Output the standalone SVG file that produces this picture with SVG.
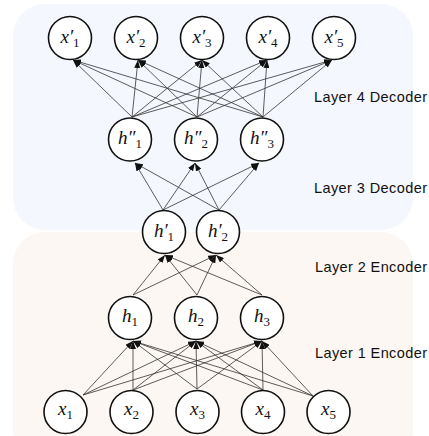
<svg xmlns="http://www.w3.org/2000/svg" width="429" height="436" viewBox="0 0 429 436">
<style>
.n{fill:#fff;stroke:#111;stroke-width:1.6}
.e line{stroke:#333;stroke-width:0.8;marker-end:url(#ah)}
.m{font-family:"Liberation Serif","DejaVu Serif",serif;font-style:italic;font-size:19px;fill:#111}
.s{font-style:normal;font-size:13px}
.l{font-family:"Liberation Sans","DejaVu Sans",sans-serif;font-size:14.5px;fill:#111}
</style>
<defs>
<marker id="ah" markerUnits="userSpaceOnUse" markerWidth="8" markerHeight="6" refX="8" refY="3" orient="auto" viewBox="0 0 8 6">
<path d="M0,0 L8,3 L0,6 z" fill="#111"/>
</marker>
</defs>
<g id="background">
<rect x="13" y="4" width="400" height="226" rx="32" fill="#f4f7fd"/>
<rect x="13" y="232" width="400" height="230" rx="32" fill="#fcf7f3"/>
</g>
<g id="connectors" class="e">
<line x1="83" y1="395" x2="133" y2="341"/>
<line x1="83" y1="395" x2="196" y2="341"/>
<line x1="83" y1="395" x2="262" y2="341"/>
<line x1="133" y1="390" x2="133" y2="341"/>
<line x1="133" y1="390" x2="196" y2="341"/>
<line x1="133" y1="390" x2="262" y2="341"/>
<line x1="197" y1="389" x2="133" y2="341"/>
<line x1="197" y1="389" x2="196" y2="341"/>
<line x1="197" y1="389" x2="262" y2="341"/>
<line x1="263" y1="390" x2="133" y2="341"/>
<line x1="263" y1="390" x2="196" y2="341"/>
<line x1="263" y1="390" x2="262" y2="341"/>
<line x1="313" y1="396" x2="133" y2="341"/>
<line x1="313" y1="396" x2="196" y2="341"/>
<line x1="313" y1="396" x2="262" y2="341"/>
<line x1="133" y1="295" x2="165" y2="255"/>
<line x1="133" y1="295" x2="216" y2="255"/>
<line x1="197" y1="295" x2="165" y2="255"/>
<line x1="197" y1="295" x2="216" y2="255"/>
<line x1="262" y1="295" x2="165" y2="255"/>
<line x1="262" y1="295" x2="216" y2="255"/>
<line x1="163" y1="210" x2="135" y2="163"/>
<line x1="163" y1="210" x2="195" y2="163"/>
<line x1="163" y1="210" x2="259" y2="163"/>
<line x1="219" y1="210" x2="135" y2="163"/>
<line x1="219" y1="210" x2="195" y2="163"/>
<line x1="219" y1="210" x2="259" y2="163"/>
<line x1="132" y1="117" x2="73" y2="60"/>
<line x1="132" y1="117" x2="138" y2="60"/>
<line x1="132" y1="117" x2="202" y2="60"/>
<line x1="132" y1="117" x2="267" y2="60"/>
<line x1="132" y1="117" x2="332" y2="60"/>
<line x1="197" y1="117" x2="73" y2="60"/>
<line x1="197" y1="117" x2="138" y2="60"/>
<line x1="197" y1="117" x2="202" y2="60"/>
<line x1="197" y1="117" x2="267" y2="60"/>
<line x1="197" y1="117" x2="332" y2="60"/>
<line x1="263" y1="117" x2="73" y2="60"/>
<line x1="263" y1="117" x2="138" y2="60"/>
<line x1="263" y1="117" x2="202" y2="60"/>
<line x1="263" y1="117" x2="267" y2="60"/>
<line x1="263" y1="117" x2="332" y2="60"/>
</g>
<g id="xp1"><circle class="n" cx="70" cy="38" r="21.5"/><text class="m" x="70" y="43" text-anchor="middle">x′<tspan class="s" dy="4">1</tspan></text></g>
<g id="xp2"><circle class="n" cx="136" cy="38" r="21.5"/><text class="m" x="136" y="43" text-anchor="middle">x′<tspan class="s" dy="4">2</tspan></text></g>
<g id="xp3"><circle class="n" cx="202" cy="38" r="21.5"/><text class="m" x="202" y="43" text-anchor="middle">x′<tspan class="s" dy="4">3</tspan></text></g>
<g id="xp4"><circle class="n" cx="268" cy="38" r="21.5"/><text class="m" x="268" y="43" text-anchor="middle">x′<tspan class="s" dy="4">4</tspan></text></g>
<g id="xp5"><circle class="n" cx="334" cy="38" r="21.5"/><text class="m" x="334" y="43" text-anchor="middle">x′<tspan class="s" dy="4">5</tspan></text></g>
<g id="hpp1"><circle class="n" cx="130" cy="139.5" r="21.5"/><text class="m" x="130" y="144" text-anchor="middle">h″<tspan class="s" dy="4">1</tspan></text></g>
<g id="hpp2"><circle class="n" cx="196" cy="139.5" r="21.5"/><text class="m" x="196" y="144" text-anchor="middle">h″<tspan class="s" dy="4">2</tspan></text></g>
<g id="hpp3"><circle class="n" cx="262" cy="139.5" r="21.5"/><text class="m" x="262" y="144" text-anchor="middle">h″<tspan class="s" dy="4">3</tspan></text></g>
<g id="hp1"><circle class="n" cx="164" cy="232" r="21.5"/><text class="m" x="164" y="236.5" text-anchor="middle">h′<tspan class="s" dy="4">1</tspan></text></g>
<g id="hp2"><circle class="n" cx="218" cy="232" r="21.5"/><text class="m" x="218" y="236.5" text-anchor="middle">h′<tspan class="s" dy="4">2</tspan></text></g>
<g id="h1"><circle class="n" cx="130" cy="318" r="21.5"/><text class="m" x="130" y="322" text-anchor="middle">h<tspan class="s" dy="4">1</tspan></text></g>
<g id="h2"><circle class="n" cx="196" cy="318" r="21.5"/><text class="m" x="196" y="322" text-anchor="middle">h<tspan class="s" dy="4">2</tspan></text></g>
<g id="h3"><circle class="n" cx="262" cy="318" r="21.5"/><text class="m" x="262" y="322" text-anchor="middle">h<tspan class="s" dy="4">3</tspan></text></g>
<g id="x1"><circle class="n" cx="65.5" cy="412" r="21.5"/><text class="m" x="65.5" y="415" text-anchor="middle">x<tspan class="s" dy="4">1</tspan></text></g>
<g id="x2"><circle class="n" cx="131.5" cy="412" r="21.5"/><text class="m" x="131.5" y="415" text-anchor="middle">x<tspan class="s" dy="4">2</tspan></text></g>
<g id="x3"><circle class="n" cx="197.5" cy="412" r="21.5"/><text class="m" x="197.5" y="415" text-anchor="middle">x<tspan class="s" dy="4">3</tspan></text></g>
<g id="x4"><circle class="n" cx="263" cy="412" r="21.5"/><text class="m" x="263" y="415" text-anchor="middle">x<tspan class="s" dy="4">4</tspan></text></g>
<g id="x5"><circle class="n" cx="328.5" cy="412" r="21.5"/><text class="m" x="328.5" y="415" text-anchor="middle">x<tspan class="s" dy="4">5</tspan></text></g>
<g id="labels">
<text class="l" x="314" y="102" textLength="113">Layer 4 Decoder</text>
<text class="l" x="314" y="193" textLength="113">Layer 3 Decoder</text>
<text class="l" x="315" y="272" textLength="112">Layer 2 Encoder</text>
<text class="l" x="315" y="358" textLength="112">Layer 1 Encoder</text>
</g>
</svg>
